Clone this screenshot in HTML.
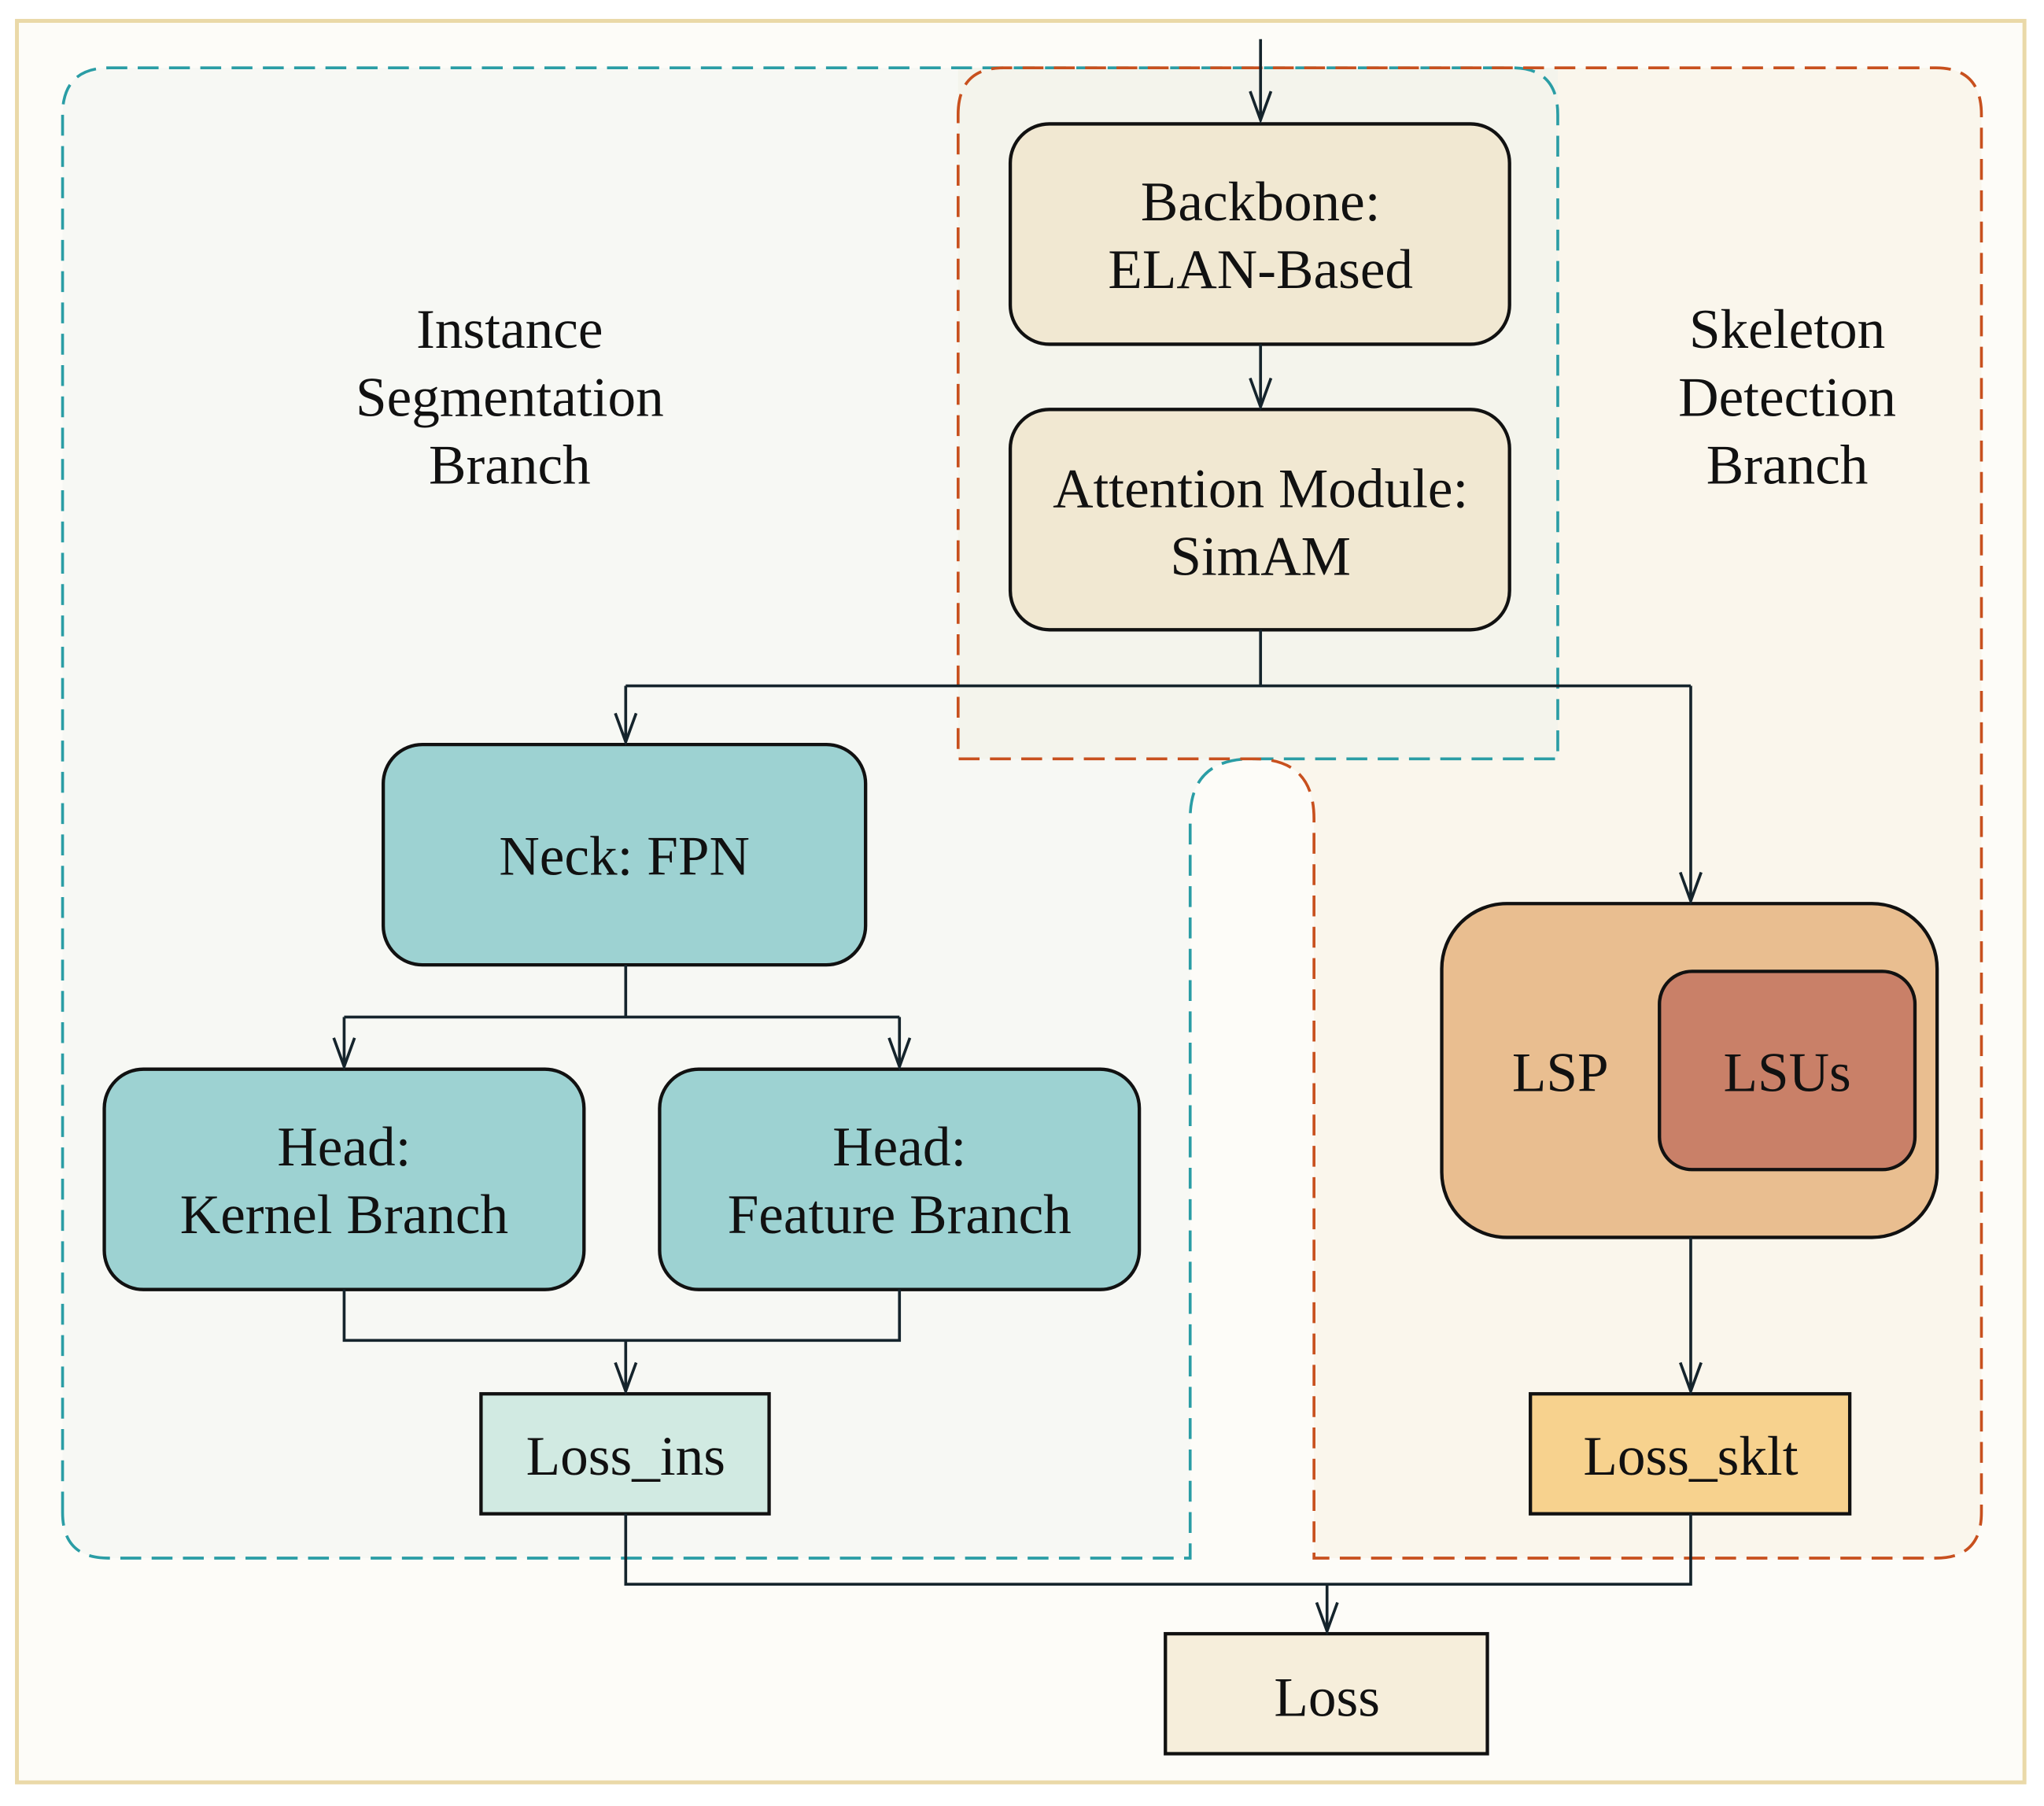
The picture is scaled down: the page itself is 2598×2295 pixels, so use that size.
<!DOCTYPE html>
<html><head><meta charset="utf-8"><style>
html,body{margin:0;padding:0;background:#fff;}
svg{display:block;}
text{font-family:"Liberation Serif",serif;font-size:43px;fill:#111;text-anchor:middle;dominant-baseline:central;}
</style></head><body>
<svg width="2598" height="2295" viewBox="0 0 1568 1385.1" xmlns="http://www.w3.org/2000/svg">
<rect x="0" y="0" width="1568" height="1386" fill="#fff"/>
<rect x="13" y="16" width="1540" height="1351" fill="#fdfcf8" stroke="#ead9a8" stroke-width="3"/>
<path d="M48,1160 L48,88 Q48,52 84,52 L1160,52 Q1195,52 1195,88 L1195,582 L960,582 Q913,582 913,628 L913,1195 L83,1195 Q48,1195 48,1160 Z" fill="#f7f8f4"/>
<path d="M735,88 Q735,52 770,52 L1485,52 Q1520,52 1520,88 L1520,1160 Q1520,1195 1485,1195 L1008,1195 L1008,628 Q1008,582 962,582 L735,582 Z" fill="#faf6ec"/>
<rect x="735" y="52" width="460" height="530" fill="#f4f4ec"/>
<path d="M48,1160 L48,88 Q48,52 84,52 L1160,52 Q1195,52 1195,88 L1195,582 L960,582 Q913,582 913,628 L913,1195 L83,1195 Q48,1195 48,1160 Z" fill="none" stroke="#2a9da5" stroke-width="2.2" stroke-dasharray="16,8"/>
<path d="M735,88 Q735,52 770,52 L1485,52 Q1520,52 1520,88 L1520,1160 Q1520,1195 1485,1195 L1008,1195 L1008,628 Q1008,582 962,582 L735,582 Z" fill="none" stroke="#c8501e" stroke-width="2.2" stroke-dasharray="16,8"/>
<g stroke="#111" stroke-width="2.6">
<rect x="775" y="95" width="383" height="169" rx="30" fill="#f1e8d2"/>
<rect x="775" y="314" width="383" height="169" rx="30" fill="#f1e8d2"/>
<rect x="294" y="571" width="370" height="169" rx="30" fill="#9dd2d2"/>
<rect x="80" y="820" width="368" height="169" rx="30" fill="#9dd2d2"/>
<rect x="506" y="820" width="368" height="169" rx="30" fill="#9dd2d2"/>
<rect x="1106" y="693" width="380" height="256" rx="50" fill="#e9be90"/>
<rect x="1273" y="745" width="196" height="152" rx="25" fill="#c98068"/>
<rect x="369" y="1069" width="221" height="92" fill="#d1eae2"/>
<rect x="1174" y="1069" width="245" height="92" fill="#f7d28e"/>
<rect x="894" y="1253" width="247" height="92" fill="#f6eedb"/>
</g>
<g stroke="#15242c" stroke-width="2.2" fill="none">
<path d="M967,30 V92 M967,264 V312 M967,483 V526 M480,526 H1297 M480,526 V569 M1297,526 V691 M480,740 V780 M264,780 H690 M264,780 V818 M690,780 V818 M264,989 V1028 H690 V989 M480,1028 V1067 M1297,949 V1067 M480,1161 V1215 H1297 V1161 M1018,1215 V1251"/>
<path d="M959,70 L967,92 L975,70 M959,290 L967,312 L975,290 M472,547 L480,569 L488,547 M1289,669 L1297,691 L1305,669 M256,796 L264,818 L272,796 M682,796 L690,818 L698,796 M472,1045 L480,1067 L488,1045 M1289,1045 L1297,1067 L1305,1045 M1010,1229 L1018,1251 L1026,1229"/>
</g>
<text x="391" y="253">Instance</text>
<text x="391" y="305">Segmentation</text>
<text x="391" y="357">Branch</text>
<text x="1371" y="253">Skeleton</text>
<text x="1371" y="305">Detection</text>
<text x="1371" y="357">Branch</text>
<text x="967" y="155">Backbone:</text>
<text x="967" y="207">ELAN-Based</text>
<text x="967" y="375">Attention Module:</text>
<text x="967" y="427">SimAM</text>
<text x="479" y="657">Neck: FPN</text>
<text x="264" y="880">Head:</text>
<text x="264" y="932">Kernel Branch</text>
<text x="690" y="880">Head:</text>
<text x="690" y="932">Feature Branch</text>
<text x="1197" y="823">LSP</text>
<text x="1371" y="823">LSUs</text>
<text x="480" y="1117">Loss_ins</text>
<text x="1297" y="1117">Loss_sklt</text>
<text x="1018" y="1302">Loss</text>
</svg>
</body></html>
